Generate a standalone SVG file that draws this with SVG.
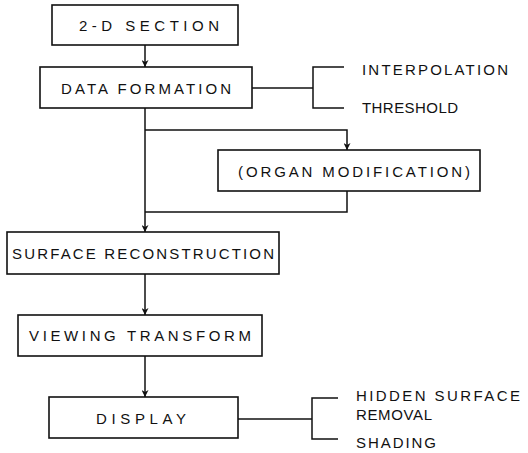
<svg xmlns="http://www.w3.org/2000/svg" width="528" height="453" viewBox="0 0 528 453">
<defs>
<marker id="ah" viewBox="0 0 10 10" refX="10" refY="5" markerWidth="7" markerHeight="7" markerUnits="userSpaceOnUse" orient="auto">
<path d="M0,0 L10,5 L0,10 L3,5 Z" fill="#111"/>
</marker>
</defs>
<style>
rect.box{fill:#fff;stroke:#111;stroke-width:1.6}
.ln{fill:none;stroke:#111;stroke-width:1.5}
text{font-family:"Liberation Sans","DejaVu Sans",sans-serif;font-size:15px;fill:#111}
.c{text-anchor:middle}
</style>
<rect width="528" height="453" fill="#fff"/>
<g id="connectors">
<path class="ln" d="M145,45 V67" marker-end="url(#ah)"/>
<path class="ln" d="M252,88 H313"/>
<path class="ln" d="M344,67 H313 V108 H344"/>
<path class="ln" d="M145,108 V232" marker-end="url(#ah)"/>
<path class="ln" d="M145,130 H347 V150" marker-end="url(#ah)"/>
<path class="ln" d="M347,191 V212 H145"/>
<path class="ln" d="M145,274 V315" marker-end="url(#ah)"/>
<path class="ln" d="M145,356 V397" marker-end="url(#ah)"/>
<path class="ln" d="M238,419 H312"/>
<path class="ln" d="M338,398 H312 V439 H338"/>
</g>
<g id="n-2d-section">
<rect class="box" x="52" y="5" width="186" height="40"/>
<text class="c" x="149" y="31" textLength="140" lengthAdjust="spacing">2-D SECTION</text>
</g>
<g id="n-data-formation">
<rect class="box" x="40" y="67" width="212" height="41"/>
<text class="c" x="146" y="94" textLength="170" lengthAdjust="spacing">DATA FORMATION</text>
</g>
<g id="n-interpolation">
<text x="362" y="75" textLength="146" lengthAdjust="spacing">INTERPOLATION</text>
</g>
<g id="n-threshold">
<text x="362" y="113" textLength="96" lengthAdjust="spacing">THRESHOLD</text>
</g>
<g id="n-organ-modification">
<rect class="box" x="218" y="150" width="262" height="41"/>
<text class="c" x="354" y="177" textLength="232" lengthAdjust="spacing">(ORGAN MODIFICATION)</text>
</g>
<g id="n-surface-reconstruction">
<rect class="box" x="7" y="232" width="272" height="42"/>
<text class="c" x="143" y="259" textLength="262" lengthAdjust="spacing">SURFACE RECONSTRUCTION</text>
</g>
<g id="n-viewing-transform">
<rect class="box" x="18" y="315" width="244" height="41"/>
<text class="c" x="140" y="341" textLength="222" lengthAdjust="spacing">VIEWING TRANSFORM</text>
</g>
<g id="n-display">
<rect class="box" x="49" y="397" width="189" height="41"/>
<text class="c" x="141" y="424" textLength="90" lengthAdjust="spacing">DISPLAY</text>
</g>
<g id="n-hidden-surface">
<text x="356" y="401" textLength="164" lengthAdjust="spacing">HIDDEN SURFACE</text>
<text x="356" y="420" textLength="76" lengthAdjust="spacing">REMOVAL</text>
</g>
<g id="n-shading">
<text x="356" y="448" textLength="80" lengthAdjust="spacing">SHADING</text>
</g>
</svg>
